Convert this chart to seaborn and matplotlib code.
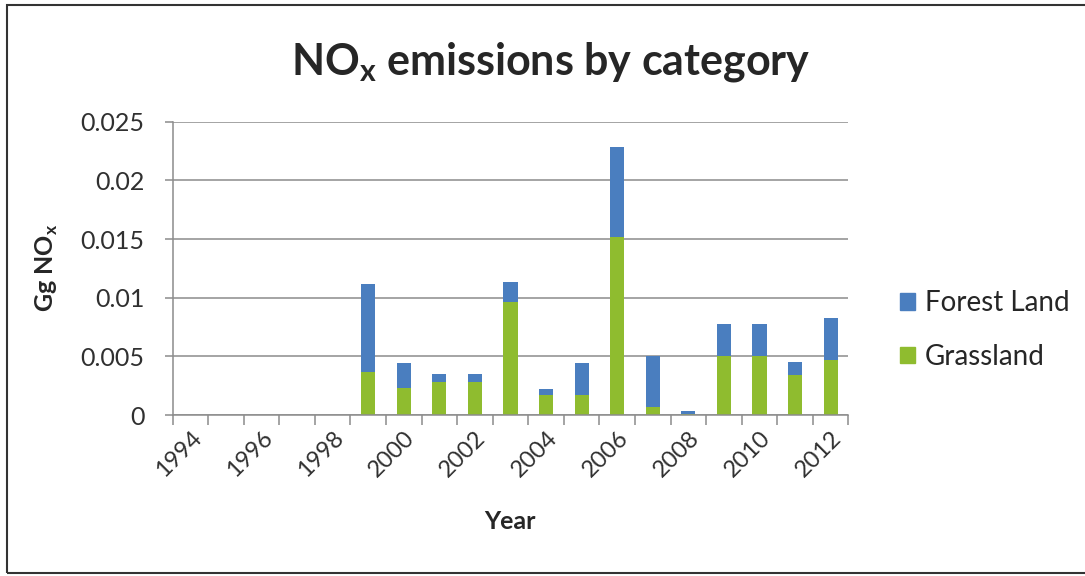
import pandas as pd
import matplotlib
matplotlib.use('Agg')
import matplotlib.pyplot as plt
import seaborn as sns
from matplotlib.patches import Rectangle, Patch

# data (Gg NOx)
years = [str(y) for y in range(1994, 2013)]
grassland = [0, 0, 0, 0, 0, 0.00366, 0.00234, 0.00282, 0.00282, 0.00966,
             0.00169, 0.00169, 0.01521, 0.0007, 0.0001, 0.00501, 0.00501,
             0.00344, 0.00465]
forest_land = [0, 0, 0, 0, 0, 0.00752, 0.00208, 0.00064, 0.00064, 0.00166,
               0.00056, 0.00273, 0.00766, 0.00437, 0.0002, 0.00279, 0.00279,
               0.00112, 0.00358]
tick_years = years[::2]

blue = '#4a7ebf'
green = '#8fbc2f'

sns.set_style('white')
plt.rcParams['font.family'] = ['Lato', 'DejaVu Sans']
plt.rcParams['mathtext.fontset'] = 'custom'
plt.rcParams['mathtext.rm'] = 'Lato'
plt.rcParams['mathtext.bf'] = 'Lato:bold'

df = pd.DataFrame({'Year': years, 'Grassland': grassland, 'Forest Land': forest_land})
df['Total'] = df['Grassland'] + df['Forest Land']

fig = plt.figure(figsize=(10.85, 5.76), dpi=100)
ax = fig.add_axes([0.159, 0.2795, 0.623, 0.509])

# stacked: draw totals in blue, grassland over it in green
sns.barplot(data=df, x='Year', y='Total', order=years, color=blue, width=0.4,
            saturation=1, linewidth=0, ax=ax)
sns.barplot(data=df, x='Year', y='Grassland', order=years, color=green, width=0.4,
            saturation=1, linewidth=0, ax=ax)

ax.set_ylim(0, 0.025)
ax.set_xlim(-0.5, len(years) - 0.5)
ax.set_yticks([0, 0.005, 0.01, 0.015, 0.02, 0.025])
ax.set_yticklabels(['0', '0.005', '0.01', '0.015', '0.02', '0.025'], fontsize=18,
                   color='#303030')
ax.yaxis.grid(True, color='#8c8c8c', linewidth=1.1)
ax.set_axisbelow(True)

ax.set_xticks(range(0, len(years), 2))
ax.set_xticklabels(tick_years, rotation=45, ha='right', rotation_mode='anchor', fontsize=17,
                   color='#303030')
ax.set_xticks([i - 0.5 for i in range(len(years) + 1)], minor=True)
ax.tick_params(axis='x', which='major', length=0, pad=9)
ax.tick_params(axis='x', which='minor', length=7, color='#8c8c8c', width=1.1, direction='out')
ax.tick_params(axis='y', length=6, color='#8c8c8c', width=1.1, direction='out', pad=14)
ax.xaxis.set_tick_params(bottom=True, which='minor')
ax.yaxis.set_tick_params(left=True)

for side in ['top', 'right']:
    ax.spines[side].set_visible(False)
for side in ['left', 'bottom']:
    ax.spines[side].set_color('#8c8c8c')
    ax.spines[side].set_linewidth(1.1)

ax.set_xlabel('')
ax.set_ylabel('')
fig.text(0.470, 0.095, 'Year', ha='center', va='center', fontsize=18, fontweight='bold')
fig.text(0.043, 0.535, r'Gg NO$_\mathbf{x}$', ha='center', va='center', rotation=90,
         fontsize=18, fontweight='bold')
fig.text(0.508, 0.892, r'NO$_\mathbf{x}$ emissions by category', ha='center', va='center',
         fontsize=31, fontweight='bold')

handles = [Patch(color=blue, label='Forest Land'), Patch(color=green, label='Grassland')]
fig.legend(handles=handles, loc='center left', bbox_to_anchor=(0.806, 0.427), frameon=False,
           fontsize=20, handlelength=0.55, handleheight=0.55, handletextpad=0.35,
           labelspacing=1.0)

# outer chart border
fig.patches.append(Rectangle((0.006, 0.006), 1.2, 0.985, transform=fig.transFigure,
                             fill=False, edgecolor='#333333', linewidth=1.5))

fig.savefig('out.png', dpi=100)
